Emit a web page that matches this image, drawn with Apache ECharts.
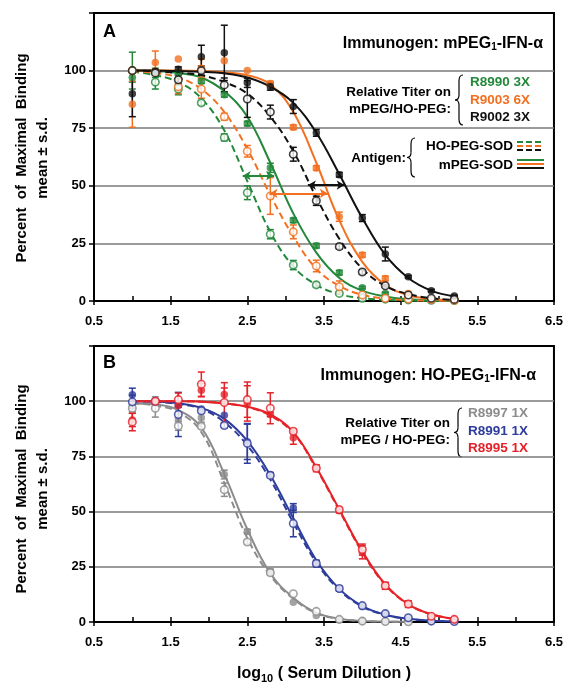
<!DOCTYPE html>
<html>
<head>
<meta charset="utf-8">
<script src="https://cdn.jsdelivr.net/npm/echarts@6/dist/echarts.min.js"></script>
<style>
  html, body { margin: 0; background: #fff; }
  #chart { width: 566px; height: 685px; }
</style>
</head>
<body>
<div id="chart"></div>
<script>
// log10 serum dilution, 3-fold steps
var doses = [1.0, 1.3, 1.6, 1.9, 2.2, 2.5, 2.8, 3.1, 3.4, 3.7, 4.0, 4.3, 4.6, 4.9, 5.2];
var xTicks = [0.5, 1.5, 2.5, 3.5, 4.5, 5.5, 6.5];
var yTicks = [0, 25, 50, 75, 100];

// Panel A - immunogen mPEG1-IFN-a (filled = mPEG-SOD, open = HO-PEG-SOD)
var r8990Filled = [97, 99, 98.4, 95.4, 89.5, 77, 57.8, 35, 24, 12.3, 5.8, 3.3, 1.2, 0.6, 0.3];
var r8990FilledSd = [2, 2, 1.5, 1, 1, 1, 2, 1, 1, 1, 0.5, 0.5, 0, 0, 0];
var r8990Open = [100, 95, 92, 86, 71, 47, 29, 15.6, 7, 3.3, 1.2, 0.8, 0.5, 0.3, 0.2];
var r8990OpenSd = [8, 3, 2.5, 1, 1.5, 3, 2, 2, 1, 0.5, 0, 0, 0, 0, 0];
var r8990Fit = [100, 99.8, 99, 97, 91, 80, 60, 38, 21, 10, 4.5, 2, 0.8, 0.3, 0.1];
var r8990HoFit = [99.5, 98, 95, 88, 74, 52, 30, 15, 7, 3, 1.2, 0.5, 0.2, 0.1, 0];

var r9003Filled = [85.4, 103.5, 105, 101, 104.3, 100, 94.4, 75.4, 57.7, 36.6, 20, 9.8, 3.3, 0.8, 0.3];
var r9003FilledSd = [10, 5, 0, 4, 0, 0, 1, 1, 1, 2, 1, 1, 0.5, 0, 0];
var r9003Open = [100, 99.4, 93, 92, 80, 65, 45.6, 30, 15.2, 6.2, 2.6, 1.2, 0.9, 0.6, 0.3];
var r9003OpenSd = [0, 0, 3, 4, 1.5, 2.5, 8, 3, 2.5, 2.5, 0.5, 0, 0, 0, 0];
var r9003Fit = [100, 100, 100, 99.8, 99.3, 98, 94, 82, 60, 35, 17, 7, 2.5, 0.9, 0.3];
var r9003HoFit = [99.8, 99, 97, 92, 82, 66, 46, 28, 14, 6.5, 2.7, 1.1, 0.4, 0.2, 0.1];

var r9002Filled = [90, 99.7, 100.6, 106, 107.7, 94.7, 93, 84.4, 73, 54.8, 36, 20.4, 10.5, 4.5, 2.2];
var r9002FilledSd = [10, 0, 1, 5, 12, 2, 1.5, 3, 1.5, 1, 1.5, 3, 0.5, 0.5, 0.3];
var r9002Open = [100, 99, 96, 100, 93.8, 87.7, 82, 63.7, 43.5, 23.6, 12.6, 6.6, 2.6, 1.2, 0.7];
var r9002OpenSd = [0, 0, 2, 2, 3, 8, 3, 3, 2, 1, 1, 0.5, 0, 0, 0];
var r9002Fit = [100, 100, 99.8, 99.5, 98.8, 97, 93, 86, 73, 55, 36, 20, 10, 4.5, 2];
var r9002HoFit = [100, 99.7, 99, 98, 95, 90, 80, 65, 45, 27, 14, 6.5, 3, 1.2, 0.5];

// titer shift arrows in panel A: [from, to, level]
var arrowGreen = [2.44, 2.85, 54.4];
var arrowOrange = [2.79, 3.55, 46.7];
var arrowBlack = [3.29, 3.77, 50.3];

// Panel B - immunogen HO-PEG1-IFN-a
var r8997Filled = [98, 100, 92, 92.5, 66.8, 41, 23, 9, 3, 1, 0.4, 0.2, 0.1];
var r8997FilledSd = [0, 2, 2, 2, 2, 1, 1, 0, 0, 0, 0, 0, 0];
var r8997Open = [96.8, 96.8, 88.8, 88.6, 59.9, 36.2, 22.3, 12.8, 4.8, 1.2, 0.4, 0.2, 0.1];
var r8997OpenSd = [1.5, 4, 2, 1, 3, 1, 1, 0, 0, 0, 0, 0, 0];
var r8997Fit = [99, 98.5, 96, 88, 67, 42, 22, 11, 4.2, 1.5, 0.5, 0.2, 0.1];
var r8997HoFit = [99, 98, 95, 86, 63, 38, 21, 10.5, 4, 1.4, 0.5, 0.2, 0.1];

var r8991Filled = [102.9, 100, 98.3, 96.5, 93.6, 81.6, 66.7, 51.6, 26.5, 15, 7, 3.6, 1.9, 0.4, 0.2];
var r8991FilledSd = [3, 0, 1, 0, 0, 8, 1, 2, 1, 1, 0.5, 0.5, 0, 0, 0];
var r8991Open = [99.7, 100, 94, 95.7, 89, 80.9, 66.4, 44.6, 26.5, 15.2, 7.4, 3.8, 1.9, 0.4, 0.2];
var r8991OpenSd = [3, 0, 10, 0, 1, 9, 1, 6, 1.5, 1, 0.5, 0.5, 0, 0, 0];
var r8991Fit = [100, 99.8, 99, 97, 92, 82, 66.5, 47, 28, 15, 7.2, 3.3, 1.5, 0.6, 0.3];
var r8991HoFit = [100, 99.7, 98.7, 96.5, 90.5, 80, 64.5, 45, 27, 14.5, 7, 3.2, 1.4, 0.6, 0.3];

var r8995Filled = [91.5, 100, 98, 105, 103, 99, 94, 83.5, 70, 50.4, 31.6, 16.4, 8.4, 2.6, 1.2];
var r8995FilledSd = [3, 0, 0, 3, 3, 8, 1, 3, 1, 1, 3, 1.5, 1, 0, 0];
var r8995Open = [90.6, 100, 100.7, 107.7, 99.4, 100.7, 96.8, 86.4, 69.6, 50.9, 32.8, 16.4, 8.1, 2.6, 1.2];
var r8995OpenSd = [4, 0, 3, 5.5, 9, 8, 7, 1, 1.5, 1, 2.5, 1.5, 1.5, 0, 0];
var r8995Fit = [100, 100, 100, 99.8, 99, 97.5, 94, 86, 70, 51, 32, 17, 8, 3.5, 1.4];
var r8995HoFit = [100, 100, 100, 99.8, 99, 97.3, 93.5, 85.5, 69.5, 50.5, 31.5, 16.8, 8, 3.5, 1.4];

// colours
var GREEN = '#23883a', ORANGE = '#f37021', BLACK = '#111111';
var GRAY = '#8c8c8c', BLUE = '#2e3c9c', RED = '#e52228';
var FONT = '"Liberation Sans", Arial, sans-serif';

function pairs(ys, extra) {
    return ys.map(function(y, i) {
        return extra ? [doses[i], y, extra[i]] : [doses[i], y];
    });
}

function fitLine(g, ys, color, dashed) {
    return {
        type: 'line', xAxisIndex: g * 2, yAxisIndex: g,
        data: pairs(ys), smooth: 0.4, showSymbol: false, silent: true, z: 2,
        lineStyle: { color: color, width: 2, type: dashed ? [7, 4] : 'solid' }
    };
}

function dots(g, ys, color, open) {
    return {
        type: 'scatter', xAxisIndex: g * 2, yAxisIndex: g,
        data: pairs(ys), symbol: 'circle', symbolSize: 7.5, z: 4,
        itemStyle: open ? { color: '#fff', borderColor: color, borderWidth: 1.6 } : { color: color }
    };
}

function errBars(g, ys, sds, color) {
    return {
        type: 'custom', xAxisIndex: g * 2, yAxisIndex: g, z: 3,
        data: pairs(ys, sds),
        encode: { x: 0, y: 1 },
        renderItem: function(params, api) {
            var sd = api.value(2);
            if (!sd) return;
            var top = api.coord([api.value(0), api.value(1) + sd]);
            var bot = api.coord([api.value(0), api.value(1) - sd]);
            var st = { stroke: color, lineWidth: 1.5 };
            return {
                type: 'group',
                children: [
                    { type: 'line', shape: { x1: top[0], y1: top[1], x2: bot[0], y2: bot[1] }, style: st },
                    { type: 'line', shape: { x1: top[0] - 3.5, y1: top[1], x2: top[0] + 3.5, y2: top[1] }, style: st },
                    { type: 'line', shape: { x1: bot[0] - 3.5, y1: bot[1], x2: bot[0] + 3.5, y2: bot[1] }, style: st }
                ]
            };
        }
    };
}

function group(g, filled, filledSd, open, openSd, fit, hoFit, color, arrow) {
    var solid = fitLine(g, fit, color, false);
    if (arrow) {
        solid.markLine = {
            silent: true, symbol: ['arrow', 'arrow'], symbolSize: [7, 8],
            label: { show: false },
            lineStyle: { color: color, width: 1.8, type: 'solid' },
            data: [[{ coord: [arrow[0], arrow[2]] }, { coord: [arrow[1], arrow[2]] }]]
        };
    }
    return [
        solid,
        fitLine(g, hoFit, color, true),
        errBars(g, filled, filledSd, color),
        errBars(g, open, openSd, color),
        dots(g, filled, color, false),
        dots(g, open, color, true)
    ];
}

function xAxisFor(g, withName) {
    var ax = {
        gridIndex: g, type: 'value', min: xTicks[0], max: xTicks[xTicks.length - 1], interval: 1,
        axisLine: { onZero: false, lineStyle: { color: '#000', width: 2 } },
        axisTick: { inside: true, length: 5, lineStyle: { color: '#000', width: 1.5 } },
        minorTick: { show: true, splitNumber: 2, length: 5, lineStyle: { color: '#000', width: 1.5 } },
        splitLine: { show: false },
        axisLabel: {
            color: '#000', fontWeight: 'bold', fontSize: 13, fontFamily: FONT, margin: 14,
            formatter: function(v) { return v.toFixed(1); }
        }
    };
    if (withName) {
        ax.name = '{b|log}{s|10}{b| ( Serum Dilution )}';
        ax.nameLocation = 'middle';
        ax.nameGap = 42;
        ax.nameTextStyle = {
            rich: {
                b: { fontSize: 16, fontWeight: 'bold', fontFamily: FONT, color: '#000' },
                s: { fontSize: 11, fontWeight: 'bold', fontFamily: FONT, color: '#000', padding: [9, 0, 0, 0] }
            }
        };
    }
    return ax;
}

// companion axis: only the outward part of the major ticks
function xTickAxis(g) {
    return {
        gridIndex: g, type: 'value', position: 'bottom', min: xTicks[0], max: xTicks[xTicks.length - 1], interval: 1,
        axisLine: { show: false }, axisLabel: { show: false }, splitLine: { show: false },
        axisTick: { length: 4, lineStyle: { color: '#000', width: 1.5 } }
    };
}

function yAxisFor(g) {
    return {
        gridIndex: g, type: 'value', min: 0, max: 125, interval: 25,
        axisLine: { lineStyle: { color: '#000', width: 2 } },
        axisTick: { length: 5, lineStyle: { color: '#000', width: 1.5 } },
        splitLine: { showMaxLine: false, lineStyle: { color: '#7a7a7a', width: 1.5 } },
        axisLabel: {
            color: '#000', fontWeight: 'bold', fontSize: 13, fontFamily: FONT, margin: 8,
            formatter: function(v) { return yTicks.indexOf(v) >= 0 ? String(v) : ''; }
        }
    };
}

function txt(x, y, text, color, size, align) {
    return {
        type: 'text', x: x, y: y, z: 10,
        style: {
            text: text, fill: color || '#000', textAlign: align || 'left', textVerticalAlign: 'middle',
            font: 'bold ' + (size || 13) + 'px ' + FONT
        }
    };
}

function richTxt(x, y, text, size) {
    return {
        type: 'text', x: x, y: y, z: 10,
        style: {
            text: text, textAlign: 'right', textVerticalAlign: 'middle',
            rich: {
                t: { fill: '#000', font: 'bold ' + size + 'px ' + FONT },
                s: { fill: '#000', font: 'bold 10px ' + FONT, padding: [7, 0, 0, 0] }
            }
        }
    };
}

// left curly brace, point on the left
function brace(x, y0, y1) {
    var xm = x + 4, xr = x + 8, ym = (y0 + y1) / 2;
    var st = { stroke: '#000', lineWidth: 1.2, fill: null };
    function q(ax, ay, cx, cy, bx, by) {
        return { type: 'bezierCurve', shape: { x1: ax, y1: ay, cpx1: cx, cpy1: cy, x2: bx, y2: by }, style: st };
    }
    function l(ax, ay, bx, by) {
        return { type: 'line', shape: { x1: ax, y1: ay, x2: bx, y2: by }, style: st };
    }
    return {
        type: 'group', z: 10,
        children: [
            q(xr, y0, xm, y0, xm, y0 + 6),
            l(xm, y0 + 6, xm, ym - 5),
            q(xm, ym - 5, xm, ym, x, ym),
            q(x, ym, xm, ym, xm, ym + 5),
            l(xm, ym + 5, xm, y1 - 6),
            q(xm, y1 - 6, xm, y1, xr, y1)
        ]
    };
}

function sample(y, color, dashed) {
    return {
        type: 'line', z: 10, shape: { x1: 517, y1: y, x2: 544, y2: y },
        style: { stroke: color, lineWidth: 2, lineDash: dashed ? [6, 3] : null }
    };
}

function yTitle(cy) {
    return [
        { type: 'text', x: 22, y: cy, rotation: Math.PI / 2, z: 10,
          style: { text: 'Percent  of  Maximal  Binding', textAlign: 'center', textVerticalAlign: 'middle', fill: '#000', font: 'bold 15px ' + FONT } },
        { type: 'text', x: 43, y: cy, rotation: Math.PI / 2, z: 10,
          style: { text: 'mean ± s.d.', textAlign: 'center', textVerticalAlign: 'middle', fill: '#000', font: 'bold 15px ' + FONT } }
    ];
}

var chart = echarts.init(document.getElementById('chart'));

var series = [].concat(
    group(0, r8990Filled, r8990FilledSd, r8990Open, r8990OpenSd, r8990Fit, r8990HoFit, GREEN, arrowGreen),
    group(0, r9003Filled, r9003FilledSd, r9003Open, r9003OpenSd, r9003Fit, r9003HoFit, ORANGE, arrowOrange),
    group(0, r9002Filled, r9002FilledSd, r9002Open, r9002OpenSd, r9002Fit, r9002HoFit, BLACK, arrowBlack),
    group(1, r8997Filled, r8997FilledSd, r8997Open, r8997OpenSd, r8997Fit, r8997HoFit, GRAY),
    group(1, r8991Filled, r8991FilledSd, r8991Open, r8991OpenSd, r8991Fit, r8991HoFit, BLUE),
    group(1, r8995Filled, r8995FilledSd, r8995Open, r8995OpenSd, r8995Fit, r8995HoFit, RED)
);

chart.setOption({
    animation: false,
    grid: [
        { left: 94, top: 13, width: 461, height: 288, show: true, borderColor: '#000', borderWidth: 2 },
        { left: 94, top: 346, width: 461, height: 287, show: true, borderColor: '#000', borderWidth: 2 }
    ],
    xAxis: [xAxisFor(0, false), xTickAxis(0), xAxisFor(1, true), xTickAxis(1)],
    yAxis: [yAxisFor(0), yAxisFor(1)],
    series: series,
    graphic: [].concat(
        yTitle(158), yTitle(489),
        [
            txt(103, 32, 'A', '#000', 18),
            richTxt(543, 44, '{t|Immunogen: mPEG}{s|1}{t|-IFN-α}', 16),
            txt(451, 92, 'Relative Titer on', '#000', 13.5, 'right'),
            txt(451, 109, 'mPEG/HO-PEG:', '#000', 13.5, 'right'),
            brace(455, 75, 125),
            txt(470, 82, 'R8990 3X', GREEN, 13.5),
            txt(470, 100, 'R9003 6X', ORANGE, 13.5),
            txt(470, 117, 'R9002 3X', BLACK, 13.5),
            txt(406, 158, 'Antigen:', '#000', 13.5, 'right'),
            brace(407, 138, 177),
            txt(513, 146, 'HO-PEG-SOD', '#000', 13.5, 'right'),
            txt(513, 165, 'mPEG-SOD', '#000', 13.5, 'right'),
            sample(142, GREEN, true), sample(146, ORANGE, true), sample(150, BLACK, true),
            sample(160, GREEN, false), sample(164, ORANGE, false), sample(168, BLACK, false),

            txt(103, 363, 'B', '#000', 18),
            richTxt(536, 376, '{t|Immunogen: HO-PEG}{s|1}{t|-IFN-α}', 16),
            txt(450, 423, 'Relative Titer on', '#000', 13.5, 'right'),
            txt(450, 440, 'mPEG / HO-PEG:', '#000', 13.5, 'right'),
            brace(454, 408, 457),
            txt(468, 413, 'R8997 1X', GRAY, 13.5),
            txt(468, 431, 'R8991 1X', BLUE, 13.5),
            txt(468, 448, 'R8995 1X', RED, 13.5)
        ]
    )
});
</script>
</body>
</html>
